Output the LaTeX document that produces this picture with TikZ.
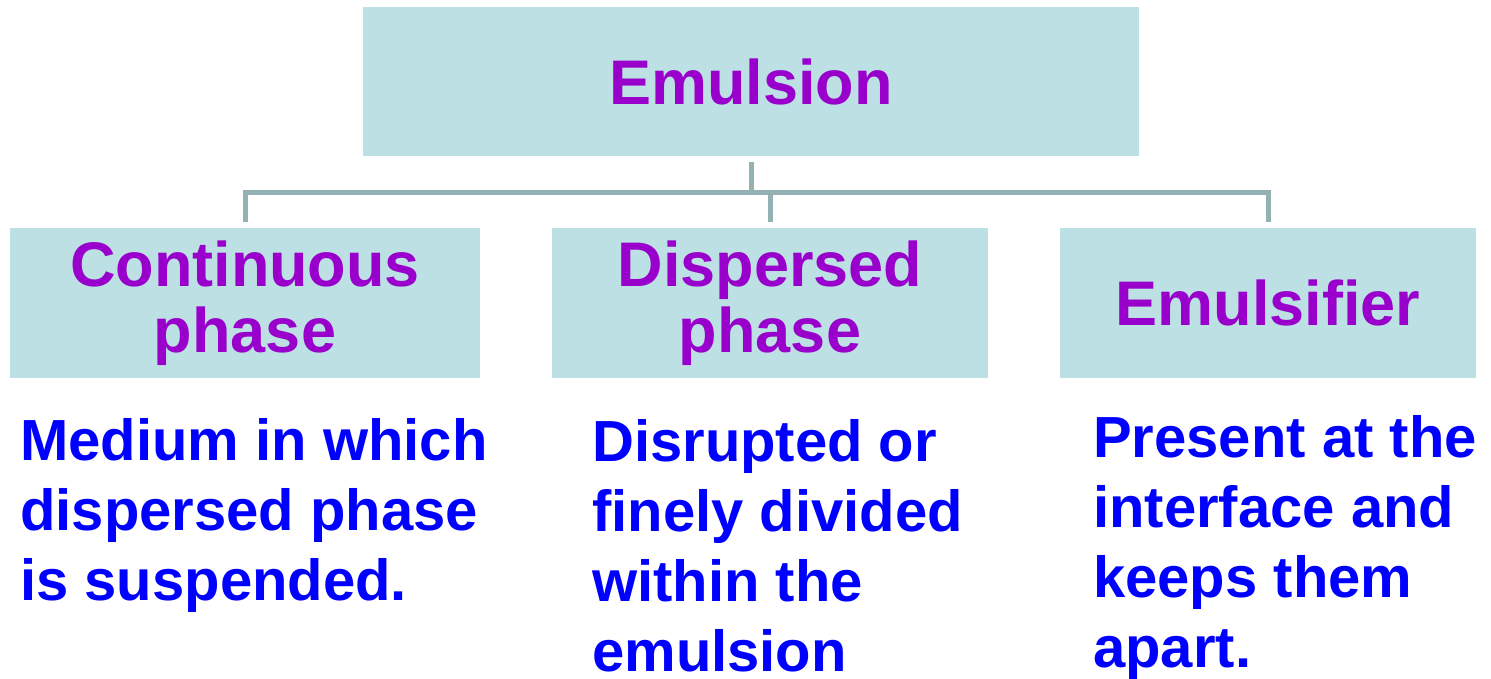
\documentclass[tikz,border=0pt]{standalone}
\usepackage{fontspec}
\setmainfont{Liberation Sans}
\definecolor{boxfill}{HTML}{BCE0E3}
\definecolor{linkgray}{HTML}{93B0B2}
\definecolor{headpurple}{HTML}{9900CC}
\definecolor{noteblue}{HTML}{0000FF}
\begin{document}
\begin{tikzpicture}[x=1pt, y=-1pt,
    headbox/.style={fill=boxfill, minimum height=150pt, inner sep=0pt, align=center,
      font=\fontsize{63}{66}\selectfont\bfseries, text=headpurple},
    note/.style={anchor=base west, inner sep=0pt, align=left,
      font=\fontsize{58}{70}\selectfont\bfseries, text=noteblue},
    link/.style={draw=linkgray, line width=5pt}]
    \useasboundingbox (0,0) rectangle (1491,678);
    \node[headbox, minimum width=776pt, minimum height=149pt] (emul) at (751,81.5) {Emulsion};
    \node[headbox, minimum width=470pt] (cont) at (245,303) {Continuous\\phase};
    \node[headbox, minimum width=436pt] (disp) at (770,303) {Dispersed\\phase};
    \node[headbox, minimum width=416pt] (emsf) at (1268,303) {Emulsifier};
    \coordinate (hub) at (751,192);
    \draw[link] ([yshift=-6pt]emul.south) -- (hub);
    \draw[link] (hub) -| ([yshift=6pt]cont.north);
    \draw[link] (hub) -| ([yshift=6pt]disp.north);
    \draw[link] (hub) -| ([yshift=6pt]emsf.north);
    % base anchor sits on the last line
    \node[note] (contnote) at (20,600) {Medium in which\\dispersed phase\\is suspended.};
    \node[note] (dispnote) at (592,671) {Disrupted or\\finely divided\\within the\\emulsion};
    \node[note] (emsfnote) at (1093,667) {Present at the\\interface and\\keeps them\\apart.};
  \end{tikzpicture}
\end{document}
